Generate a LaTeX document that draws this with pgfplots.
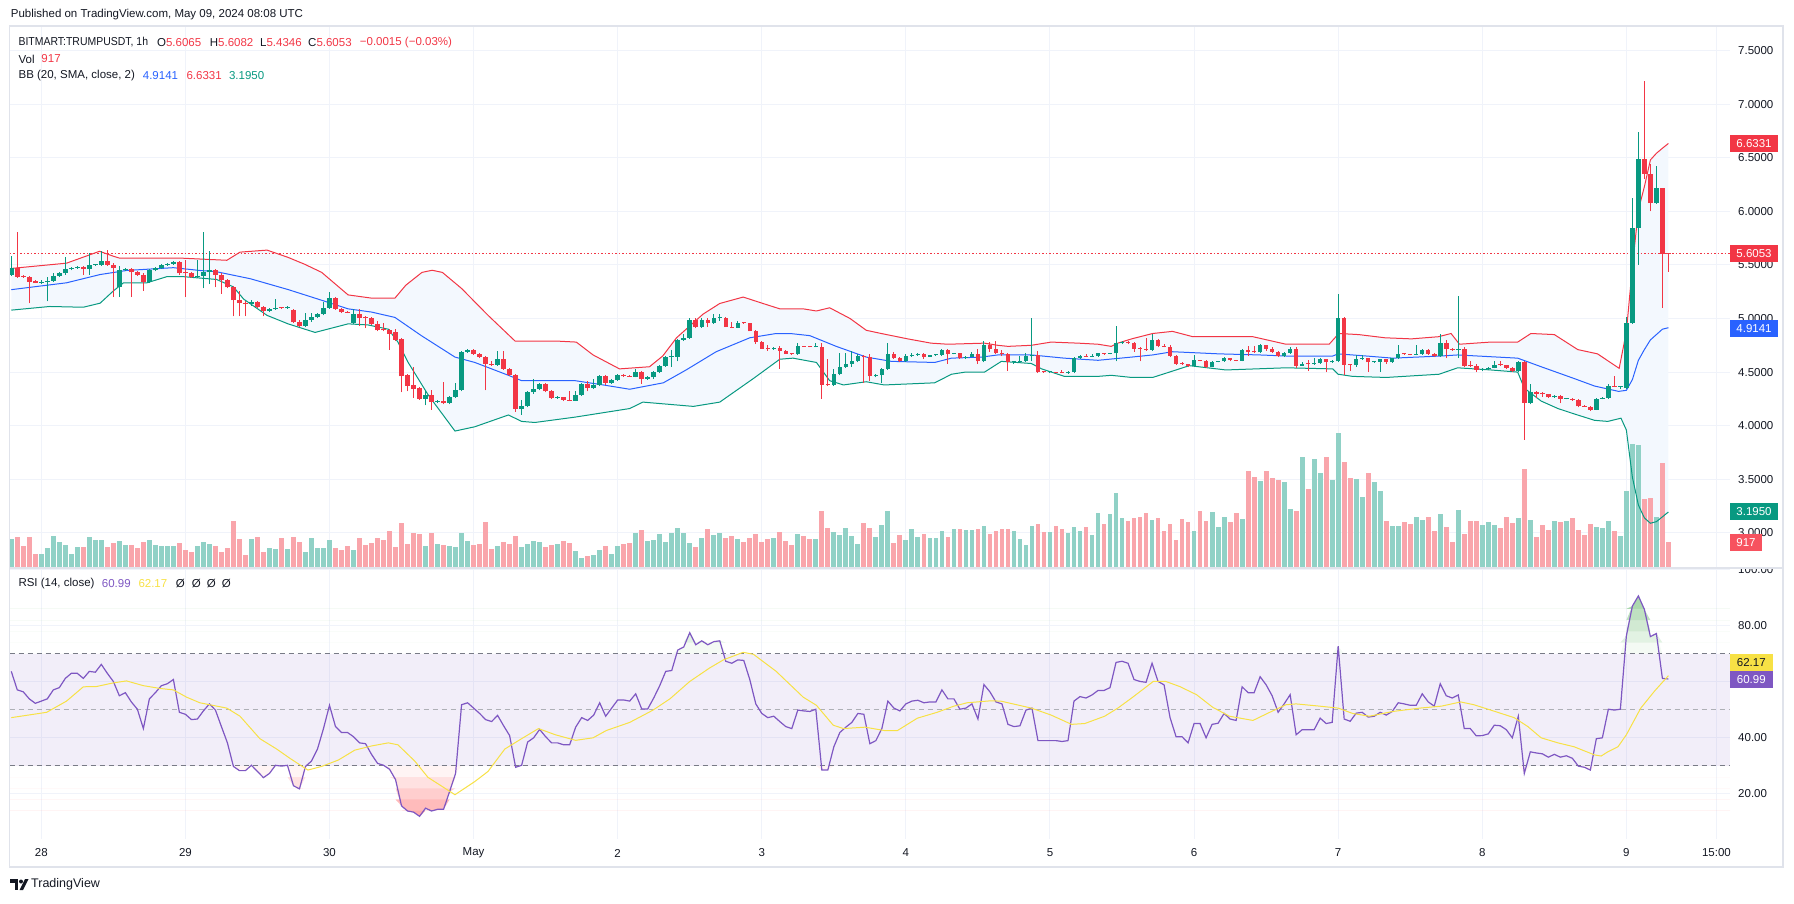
\documentclass[border=0pt]{standalone}
\usepackage{pgfplots}
\pgfplotsset{compat=1.18}
\usepackage{pgfplotstable}
\usepgfplotslibrary{fillbetween}
\usepackage{fontspec}
\setmainfont{Liberation Sans}

\definecolor{upc}{HTML}{089981}
\definecolor{dnc}{HTML}{F23645}
\definecolor{upv}{RGB}{144,209,198}
\definecolor{dnv}{RGB}{249,165,171}
\definecolor{bbmid}{HTML}{2962FF}
\definecolor{bbfill}{RGB}{243,248,254}
\definecolor{gridc}{HTML}{F0F3FA}
\definecolor{txt}{HTML}{131722}
\definecolor{rsic}{HTML}{7E57C2}
\definecolor{rsima}{HTML}{F7E145}
\definecolor{framec}{HTML}{E0E3EB}
\definecolor{dashc}{HTML}{787B86}
\definecolor{obgreen}{RGB}{95,180,100}
\definecolor{osred}{RGB}{255,120,120}
\definecolor{volred}{HTML}{F7525F}

% hourly candles, h = hours from 28 Apr 00:00; v = volume (arbitrary units); r = RSI(14)
\pgfplotstableread{
h o hi lo c v r
-5 5.41 5.58 5.40 5.47 7.0 63.7
-4 5.47 5.81 5.38 5.39 7.6 57.1
-3 5.40 5.41 5.38 5.39 5.4 56.4
-2 5.39 5.40 5.14 5.345 7.6 53.9
-1 5.35 5.36 5.33 5.33 3.5 52.3
0 5.33 5.36 5.32 5.34 3.5 53.1
1 5.34 5.39 5.16 5.35 4.9 53.9
2 5.35 5.42 5.34 5.40 7.9 57.1
3 5.40 5.43 5.39 5.42 6.4 57.9
4 5.42 5.57 5.41 5.46 5.7 61.2
5 5.46 5.48 5.45 5.47 3.5 63.0
6 5.47 5.49 5.46 5.48 5.2 63.0
7 5.48 5.49 5.41 5.46 5.2 61.2
8 5.46 5.61 5.41 5.50 7.6 63.7
9 5.50 5.51 5.49 5.505 6.9 63.4
10 5.50 5.63 5.49 5.54 6.9 66.2
11 5.54 5.64 5.49 5.50 5.2 63.0
12 5.50 5.52 5.20 5.47 6.2 60.1
13 5.29 5.49 5.20 5.45 6.7 55.0
14 5.45 5.47 5.44 5.46 5.7 56.1
15 5.46 5.47 5.20 5.43 5.7 52.8
16 5.43 5.44 5.40 5.41 4.9 50.2
17 5.41 5.42 5.26 5.34 6.4 43.3
18 5.34 5.46 5.33 5.45 6.9 53.9
19 5.45 5.48 5.44 5.47 5.7 56.1
20 5.47 5.51 5.46 5.50 5.4 58.6
21 5.50 5.52 5.49 5.51 5.4 59.3
22 5.51 5.54 5.50 5.53 5.4 60.8
23 5.53 5.54 5.41 5.42 6.2 49.1
24 5.425 5.55 5.20 5.42 4.4 48.4
25 5.42 5.43 5.38 5.39 4.0 46.5
26 5.39 5.55 5.38 5.40 5.4 46.7
27 5.40 5.81 5.28 5.43 6.4 49.6
28 5.43 5.63 5.32 5.45 5.8 52.1
29 5.45 5.46 5.29 5.41 5.4 49.9
30 5.41 5.42 5.23 5.36 4.0 44.0
31 5.36 5.37 5.28 5.29 4.9 38.2
32 5.29 5.30 5.02 5.17 11.6 29.8
33 5.17 5.26 5.02 5.14 7.0 28.3
34 5.14 5.16 5.02 5.135 3.2 28.3
35 5.135 5.17 5.12 5.15 7.0 30.2
36 5.15 5.16 5.10 5.11 7.6 28.0
37 5.11 5.12 5.02 5.07 3.8 25.8
38 5.07 5.10 5.06 5.09 4.9 27.3
39 5.09 5.18 5.08 5.10 4.6 30.2
40 5.10 5.11 5.09 5.095 7.4 29.9
41 5.095 5.12 5.09 5.10 4.7 30.2
42 5.08 5.09 4.96 4.964 7.6 22.9
43 4.97 4.99 4.92 4.93 6.4 21.8
44 4.93 5.05 4.92 4.99 4.0 29.8
45 4.99 5.05 4.97 5.01 7.4 31.7
46 5.01 5.05 5.00 5.04 4.9 36.0
47 5.04 5.15 5.03 5.10 4.9 43.3
48 5.10 5.25 5.09 5.19 6.9 51.6
49 5.19 5.20 5.08 5.09 4.9 44.0
50 5.09 5.10 5.05 5.06 4.5 41.9
51 5.06 5.07 5.05 5.055 5.4 41.9
52 4.96 5.09 4.95 5.04 4.5 40.4
53 5.04 5.09 4.93 5.00 7.4 38.2
54 5.01 5.02 4.91 5.00 5.7 37.9
55 5.00 5.01 4.94 4.95 6.2 34.1
56 4.95 4.98 4.88 4.89 7.4 30.9
57 4.90 4.96 4.88 4.89 6.9 30.2
58 4.89 4.90 4.71 4.86 9.1 28.8
59 4.87 4.90 4.79 4.80 5.2 25.1
60 4.81 4.82 4.31 4.46 11.1 15.7
61 4.47 4.48 4.32 4.37 5.9 13.9
62 4.38 4.55 4.26 4.34 8.6 13.5
63 4.35 4.36 4.24 4.25 8.4 12.0
64 4.25 4.33 4.19 4.29 5.4 14.9
65 4.29 4.33 4.15 4.22 8.6 13.9
66 4.22 4.24 4.21 4.23 5.9 14.5
67 4.23 4.41 4.20 4.21 5.7 14.5
68 4.21 4.28 4.20 4.27 5.4 20.8
69 4.27 4.40 4.26 4.33 5.2 27.3
70 4.33 4.70 4.32 4.69 8.6 51.8
71 4.69 4.72 4.68 4.71 6.7 52.5
72 4.71 4.72 4.66 4.67 5.7 50.6
73 4.67 4.68 4.63 4.64 5.9 48.7
74 4.64 4.65 4.33 4.58 11.3 46.5
75 4.58 4.60 4.56 4.57 4.7 45.8
76 4.57 4.70 4.56 4.62 5.4 48.0
77 4.62 4.70 4.52 4.53 6.4 44.3
78 4.53 4.54 4.46 4.47 5.9 40.8
79 4.47 4.48 4.13 4.16 7.9 29.5
80 4.16 4.24 4.10 4.18 5.2 30.2
81 4.18 4.32 4.17 4.31 5.9 38.5
82 4.31 4.44 4.30 4.34 6.7 40.0
83 4.34 4.40 4.33 4.39 6.4 43.0
84 4.39 4.40 4.31 4.32 5.2 40.4
85 4.32 4.33 4.25 4.26 5.7 38.2
86 4.26 4.28 4.25 4.265 5.9 38.2
87 4.265 4.27 4.23 4.24 6.7 37.5
88 4.24 4.32 4.23 4.235 6.2 37.5
89 4.235 4.32 4.23 4.29 4.2 43.8
90 4.29 4.40 4.28 4.39 2.5 47.2
91 4.39 4.42 4.32 4.35 3.0 46.2
92 4.35 4.44 4.34 4.38 3.2 48.1
93 4.38 4.47 4.37 4.46 4.5 52.5
94 4.46 4.47 4.38 4.40 5.4 47.7
95 4.40 4.44 4.39 4.43 3.5 50.6
96 4.43 4.48 4.42 4.47 5.4 53.5
97 4.47 4.48 4.455 4.46 5.9 53.5
98 4.46 4.47 4.455 4.458 6.2 53.1
99 4.458 4.53 4.45 4.50 8.6 55.7
100 4.50 4.51 4.39 4.44 9.4 50.3
101 4.44 4.46 4.43 4.45 6.7 50.3
102 4.45 4.51 4.44 4.50 6.9 54.2
103 4.50 4.57 4.49 4.56 8.4 58.6
104 4.56 4.65 4.55 4.64 6.4 63.7
105 4.64 4.71 4.55 4.645 8.6 64.0
106 4.645 4.81 4.60 4.80 9.8 71.3
107 4.80 4.86 4.79 4.82 8.6 72.4
108 4.82 5.00 4.81 4.99 6.2 77.5
109 4.99 5.00 4.91 4.92 5.2 73.2
110 4.92 5.00 4.91 4.99 7.4 74.6
111 4.99 5.00 4.92 4.96 9.6 73.2
112 4.96 5.04 4.95 5.00 8.1 74.3
113 5.00 5.04 4.98 5.005 8.6 74.6
114 5.005 5.01 4.92 4.92 7.4 67.3
115 4.92 4.97 4.91 4.915 7.9 66.6
116 4.915 4.98 4.91 4.96 7.1 67.8
117 4.96 4.965 4.95 4.955 6.4 67.6
118 4.955 4.96 4.88 4.88 7.4 60.8
119 4.88 4.89 4.76 4.78 8.4 52.1
120 4.78 4.79 4.72 4.72 6.4 48.7
121 4.72 4.75 4.70 4.715 7.1 47.2
122 4.715 4.73 4.71 4.725 7.4 47.7
123 4.725 4.74 4.53 4.70 8.9 45.8
124 4.70 4.71 4.67 4.67 6.7 44.0
125 4.67 4.68 4.66 4.665 5.7 43.3
126 4.665 4.77 4.66 4.74 8.4 49.9
127 4.74 4.745 4.735 4.738 7.9 49.6
128 4.738 4.74 4.73 4.732 7.1 49.4
129 4.732 4.77 4.73 4.735 7.1 50.2
130 4.735 4.77 4.25 4.38 14.0 28.5
131 4.38 4.62 4.37 4.375 9.8 28.5
132 4.375 4.53 4.37 4.48 8.9 36.8
133 4.48 4.68 4.47 4.55 8.1 41.9
134 4.55 4.68 4.54 4.58 9.8 43.8
135 4.58 4.70 4.55 4.60 7.9 45.5
136 4.60 4.67 4.59 4.65 5.9 48.7
137 4.65 4.66 4.40 4.64 11.1 48.4
138 4.64 4.67 4.42 4.46 9.9 37.9
139 4.46 4.48 4.45 4.47 7.6 39.0
140 4.47 4.54 4.40 4.53 10.6 43.3
141 4.53 4.77 4.52 4.67 14.0 53.1
142 4.67 4.69 4.62 4.63 6.2 50.6
143 4.63 4.64 4.59 4.60 8.1 49.6
144 4.60 4.67 4.59 4.65 6.9 52.1
145 4.65 4.68 4.64 4.66 9.6 53.1
146 4.66 4.68 4.65 4.67 7.6 53.4
147 4.67 4.68 4.62 4.645 8.4 52.5
148 4.645 4.66 4.64 4.655 7.4 52.8
149 4.655 4.665 4.65 4.66 7.4 52.8
150 4.66 4.72 4.65 4.71 9.1 57.1
151 4.71 4.72 4.58 4.67 7.6 53.9
152 4.67 4.68 4.665 4.675 9.6 53.9
153 4.675 4.68 4.62 4.63 9.6 50.2
154 4.63 4.65 4.62 4.645 9.4 50.6
155 4.645 4.69 4.64 4.67 9.4 52.1
156 4.67 4.72 4.58 4.60 9.6 46.7
157 4.60 4.79 4.59 4.75 10.3 59.0
158 4.75 4.78 4.69 4.72 8.4 56.4
159 4.72 4.79 4.67 4.68 9.1 52.8
160 4.68 4.71 4.65 4.67 9.6 52.1
161 4.67 4.68 4.51 4.59 9.6 44.8
162 4.59 4.60 4.58 4.595 9.1 44.0
163 4.595 4.65 4.59 4.60 7.1 44.3
164 4.60 4.68 4.59 4.65 5.7 49.9
165 4.65 5.00 4.60 4.66 10.3 50.6
166 4.66 4.70 4.49 4.50 10.8 39.0
167 4.50 4.51 4.495 4.498 8.9 39.0
168 4.498 4.51 4.49 4.499 8.9 39.0
169 4.499 4.505 4.49 4.495 10.3 39.0
170 4.495 4.52 4.49 4.49 9.6 38.7
171 4.49 4.51 4.485 4.50 8.6 39.0
172 4.50 4.64 4.49 4.63 10.1 53.1
173 4.63 4.66 4.62 4.65 9.1 54.7
174 4.65 4.67 4.64 4.645 10.1 54.2
175 4.645 4.67 4.64 4.65 8.1 55.3
176 4.65 4.68 4.64 4.675 13.5 56.9
177 4.675 4.68 4.66 4.67 10.8 56.9
178 4.67 4.68 4.665 4.675 13.3 57.9
179 4.675 4.93 4.60 4.77 18.4 66.9
180 4.77 4.79 4.76 4.78 12.3 67.3
181 4.78 4.79 4.76 4.775 11.6 66.6
182 4.775 4.78 4.69 4.72 12.3 60.8
183 4.72 4.73 4.60 4.715 12.5 60.1
184 4.715 4.82 4.70 4.71 13.5 59.8
185 4.71 4.86 4.70 4.80 11.8 66.6
186 4.80 4.81 4.73 4.74 12.3 60.1
187 4.74 4.76 4.73 4.735 9.1 58.9
188 4.735 4.75 4.64 4.65 10.8 47.2
189 4.65 4.66 4.57 4.58 6.9 40.4
190 4.58 4.59 4.57 4.575 12.0 40.4
191 4.575 4.58 4.55 4.555 11.3 38.2
192 4.555 4.66 4.55 4.61 9.1 45.1
193 4.61 4.615 4.60 4.605 14.0 45.1
194 4.605 4.61 4.54 4.55 11.6 40.0
195 4.55 4.60 4.545 4.595 13.8 44.8
196 4.595 4.605 4.59 4.60 10.1 45.2
197 4.60 4.64 4.595 4.63 12.5 48.7
198 4.63 4.635 4.60 4.61 11.3 46.7
199 4.61 4.615 4.60 4.605 13.5 46.2
200 4.605 4.72 4.60 4.71 12.0 58.2
201 4.71 4.74 4.65 4.69 23.8 56.1
202 4.69 4.74 4.68 4.685 22.3 56.1
203 4.685 4.76 4.68 4.75 21.4 61.8
204 4.75 4.755 4.70 4.72 23.8 58.9
205 4.72 4.73 4.68 4.69 22.1 55.0
206 4.69 4.70 4.64 4.65 21.6 49.1
207 4.65 4.69 4.64 4.68 21.1 52.1
208 4.68 4.73 4.67 4.72 14.5 55.4
209 4.72 4.73 4.54 4.56 14.0 41.1
210 4.56 4.59 4.555 4.58 27.2 42.9
211 4.58 4.61 4.51 4.575 19.4 42.9
212 4.575 4.63 4.57 4.585 26.7 42.9
213 4.585 4.63 4.58 4.62 23.3 47.0
214 4.62 4.625 4.50 4.59 27.2 45.1
215 4.59 4.61 4.585 4.60 21.6 45.5
216 4.60 5.23 4.59 5.00 33.1 72.7
217 5.00 5.01 4.47 4.57 26.0 46.7
218 4.57 4.58 4.51 4.565 22.1 45.9
219 4.565 4.66 4.55 4.62 21.8 48.8
220 4.62 4.66 4.615 4.63 17.4 49.1
221 4.63 4.635 4.50 4.59 23.3 47.4
222 4.59 4.60 4.585 4.595 21.1 47.7
223 4.595 4.625 4.50 4.62 18.9 49.1
224 4.62 4.625 4.58 4.59 11.6 48.1
225 4.59 4.635 4.585 4.63 10.3 49.4
226 4.63 4.75 4.62 4.67 10.3 52.5
227 4.67 4.68 4.66 4.665 11.3 52.1
228 4.665 4.67 4.655 4.66 10.8 51.6
229 4.66 4.75 4.655 4.665 12.5 51.6
230 4.665 4.72 4.66 4.71 11.8 55.7
231 4.71 4.715 4.66 4.67 12.5 52.8
232 4.67 4.675 4.64 4.65 9.1 51.3
233 4.65 4.86 4.645 4.77 13.3 59.3
234 4.77 4.80 4.63 4.72 10.1 55.0
235 4.72 4.725 4.70 4.71 6.4 54.2
236 4.71 5.21 4.63 4.72 14.3 55.3
237 4.72 4.73 4.55 4.56 8.4 43.3
238 4.56 4.60 4.55 4.555 11.6 43.3
239 4.555 4.58 4.50 4.52 11.6 40.7
240 4.52 4.54 4.51 4.53 10.6 40.8
241 4.53 4.545 4.52 4.54 11.3 41.4
242 4.54 4.60 4.535 4.57 10.6 44.5
243 4.57 4.60 4.56 4.565 9.8 44.3
244 4.565 4.57 4.53 4.54 12.5 42.9
245 4.54 4.545 4.505 4.51 11.1 40.0
246 4.51 4.60 4.505 4.59 12.3 47.7
247 4.59 4.60 3.87 4.21 24.3 27.3
248 4.21 4.39 4.20 4.31 11.8 35.0
249 4.31 4.32 4.26 4.30 7.6 34.6
250 4.30 4.31 4.27 4.295 10.6 34.3
251 4.295 4.30 4.26 4.265 9.4 33.1
252 4.265 4.29 4.26 4.28 11.6 34.1
253 4.28 4.285 4.21 4.25 11.3 33.1
254 4.25 4.255 4.245 4.252 11.6 33.6
255 4.252 4.26 4.235 4.24 12.3 32.7
256 4.24 4.245 4.17 4.18 9.4 29.9
257 4.18 4.19 4.175 4.178 8.1 29.5
258 4.178 4.18 4.14 4.15 10.8 28.5
259 4.15 4.26 4.145 4.25 10.1 39.7
260 4.25 4.27 4.245 4.26 9.8 40.0
261 4.26 4.39 4.25 4.37 11.6 50.2
262 4.37 4.46 4.36 4.365 9.1 49.9
263 4.365 4.37 4.34 4.368 7.9 50.2
264 4.35 5.01 4.34 4.955 18.9 76.4
265 4.955 6.12 4.95 5.84 30.3 87.0
266 5.84 6.74 5.50 6.49 30.1 90.6
267 6.49 7.215 6.30 6.35 16.9 85.8
268 6.35 6.44 6.00 6.075 17.2 76.1
269 6.075 6.42 6.07 6.215 12.5 77.2
270 6.215 6.22 5.10 5.60 25.7 61.2
271 5.6065 5.6082 5.4346 5.6053 6.4 60.99
}\candles

% Bollinger bands (20, 2)
\pgfplotstableread{
h p
-5 5.467
4.2 5.516
9.7 5.627
12 5.581
13.1 5.562
23.7 5.562
30.9 5.543
33.1 5.619
37.6 5.638
41.1 5.57
43.9 5.505
46.7 5.43
51.1 5.22
55 5.19
58.9 5.19
60.7 5.31
63.4 5.43
65.1 5.45
66.8 5.43
70 5.28
74.4 5.03
78.9 4.79
85.6 4.79
89.1 4.78
91.9 4.66
96.3 4.53
101.3 4.55
103.5 4.65
105.8 4.82
110.2 5.04
113 5.14
116.9 5.20
120.2 5.14
123 5.09
126.9 5.09
129.1 5.07
131.3 5.10
134.7 5.00
137.4 4.89
139.9 4.86
144.3 4.81
148.2 4.77
151 4.76
157.1 4.77
159.3 4.75
161 4.74
164.9 4.75
168.2 4.78
172.7 4.77
176 4.76
178.2 4.74
179.3 4.77
181.6 4.81
185.1 4.86
188.4 4.88
191.8 4.83
199 4.83
201.8 4.83
207.3 4.76
214.5 4.76
215.3 4.81
216.1 4.86
219.4 4.85
223.8 4.82
228.2 4.81
232.7 4.83
234.8 4.86
236.2 4.76
241.4 4.78
245.9 4.78
248.1 4.86
252 4.85
255.9 4.71
259.2 4.67
262.8 4.535
264 4.877
265 5.483
266 6.012
267 6.23
268 6.479
269 6.541
270 6.588
271 6.633
}\bbupper
\pgfplotstableread{
h p
-5 5.078
1.4 5.112
7 5.105
9.8 5.143
12 5.257
13.7 5.333
17.6 5.333
20.9 5.39
23.7 5.39
29.2 5.364
32 5.295
33.7 5.181
37.6 5.029
41.1 4.95
45.6 4.87
51.1 4.95
54.4 4.94
57.8 4.90
59.4 4.78
61.1 4.59
64.4 4.29
68.9 3.95
72.2 3.99
77.8 4.10
80 4.04
82.2 4.03
88.9 4.08
98 4.16
100.2 4.22
108.6 4.18
113 4.22
118.6 4.44
123 4.62
125.2 4.63
129.1 4.59
131.3 4.42
133.6 4.38
137.4 4.41
140.4 4.38
148.8 4.40
151.6 4.48
153.9 4.50
157.1 4.50
159.9 4.60
164.9 4.58
166.6 4.53
170.4 4.46
176 4.46
178.2 4.47
181.6 4.45
185.1 4.45
187.9 4.50
191.2 4.56
197.3 4.52
207.3 4.54
215.1 4.53
216 4.48
218.4 4.46
224 4.45
232.8 4.48
235.9 4.54
241.4 4.52
245.9 4.50
247 4.35
249.8 4.23
252.6 4.16
255.3 4.11
258.7 4.05
260.9 4.04
263.1 4.07
264 3.96
265 3.52
266 3.26
267 3.14
268 3.09
269 3.105
270 3.15
271 3.195
}\bblower
\pgfplotstableread{
h p
-5 5.269
4.2 5.333
9.8 5.41
14.2 5.448
22 5.474
26.4 5.448
29.2 5.436
34.8 5.371
41.1 5.27
46.7 5.17
51.1 5.09
55 5.06
58.9 5.01
63.3 4.84
68.9 4.64
72.2 4.59
77.8 4.47
80 4.42
88.9 4.42
93.6 4.38
98 4.34
103.6 4.40
107.4 4.52
112.4 4.69
118 4.82
122.4 4.86
124.7 4.86
128 4.84
132.4 4.74
137.4 4.64
141.6 4.60
148.8 4.59
151.6 4.63
156.6 4.64
159.3 4.66
164.9 4.66
170.4 4.63
176 4.61
181.6 4.64
185.1 4.66
188.4 4.69
196.2 4.67
202.9 4.66
207.3 4.65
215.1 4.65
216 4.67
220.7 4.65
225.1 4.63
233.1 4.65
235.9 4.66
245.9 4.63
249.8 4.55
255.3 4.44
258.7 4.37
262.7 4.32
264 4.33
265 4.43
266 4.61
267 4.71
268 4.80
269 4.85
270 4.90
271 4.914
}\bbbasis

\pgfplotsset{
  colormap={candlecm}{color(0)=(upc) color(1)=(dnc)},
  colormap={volcm}{color(0)=(upv) color(1)=(dnv)},
}

\begin{document}
\begin{tikzpicture}[font=\fontsize{11.5}{13}\selectfont]
\path (0pt,0pt) rectangle (1794pt,903pt);

% ---------------- price pane ----------------
\begin{axis}[
  at={(9.6pt,335pt)}, anchor=south west, scale only axis,
  width=1720.4pt, height=542pt,
  xmin=-5.28, xmax=281.26, ymin=2.6726, ymax=7.7285,
  axis line style={draw=none}, major tick length=0pt,
  grid=major, grid style={gridc, line width=1pt},
  xtick={0,24,...,264,279}, xticklabels={},
  ytick={3,3.5,...,7.5},
  yticklabels={3.0000,3.5000,4.0000,4.5000,5.0000,5.5000,6.0000,6.5000,7.0000,7.5000},
  yticklabel pos=right,
  tick label style={font=\fontsize{11.5}{13}\selectfont, text=txt},
  yticklabel style={anchor=west, inner sep=0pt, xshift=8pt},
  point meta min=0, point meta max=1,
]
% volume: vertical bars from the pane bottom, coloured by candle direction
\addplot[colormap name=volcm, line width=4.8pt, point meta={\thisrow{c}<\thisrow{o}},
  quiver={u=0, v={0.03806*\thisrow{v}}, colored=mapped color}]
  table[x=h, y expr={2.6726}] {\candles};

% Bollinger bands
\addplot[name path=bbu, draw=none] table[x=h, y=p] {\bbupper};
\addplot[name path=bbl, draw=none] table[x=h, y=p] {\bblower};
\addplot[fill=bbfill, draw=none] fill between[of=bbu and bbl];
\addplot[dnc, line width=1pt] table[x=h, y=p] {\bbupper};
\addplot[upc, line width=1pt] table[x=h, y=p] {\bblower};
\addplot[bbmid, line width=1pt] table[x=h, y=p] {\bbbasis};

% last price line
\draw[dnc, line width=1pt, dash pattern=on 1.5pt off 2pt] (axis cs:-5.28,5.6053) -- (axis cs:281.26,5.6053);

% candles: wicks, then bodies
\addplot[colormap name=candlecm, line width=1pt, point meta={\thisrow{c}<\thisrow{o}},
  quiver={u=0, v={\thisrow{hi}-\thisrow{lo}}, colored=mapped color}]
  table[x=h, y=lo] {\candles};
\addplot[colormap name=candlecm, line width=4.5pt, point meta={\thisrow{c}<\thisrow{o}},
  quiver={u=0, v={max(abs(\thisrow{c}-\thisrow{o}),0.0093)}, colored=mapped color}]
  table[x=h, y expr={min(\thisrow{o},\thisrow{c})}] {\candles};
\end{axis}

% ---------------- RSI pane ----------------
\begin{axis}[
  at={(9.6pt,64.4pt)}, anchor=south west, scale only axis,
  width=1720.4pt, height=270.6pt,
  xmin=-5.28, xmax=281.26, ymin=4.05, ymax=100.58,
  axis line style={draw=none}, major tick length=0pt,
  grid=major, grid style={gridc, line width=1pt},
  xtick={0,24,...,264,279},
  xticklabels={28,29,30,May,2,3,4,5,6,7,8,9,15:00},
  ytick={20,40,60,80,100},
  yticklabels={20.00,40.00,60.00,80.00,100.00},
  yticklabel pos=right,
  tick label style={font=\fontsize{11.5}{13}\selectfont, text=txt},
  yticklabel style={anchor=west, inner sep=0pt, xshift=8pt},
  xticklabel style={anchor=center, inner sep=0pt, yshift=-14.4pt},
]
\fill[rsic, fill opacity=0.1] (axis cs:-5.28,30) rectangle (axis cs:281.26,70);
\draw[dashc, line width=1pt, dash pattern=on 5pt off 4pt] (axis cs:-5.28,70) -- (axis cs:281.26,70);
\draw[dashc!60, line width=1pt, dash pattern=on 5pt off 4pt] (axis cs:-5.28,50) -- (axis cs:281.26,50);
\draw[dashc, line width=1pt, dash pattern=on 5pt off 4pt] (axis cs:-5.28,30) -- (axis cs:281.26,30);

% overbought / oversold areas, shaded in horizontal steps:
% the RSI curve clamped at a level, filled against that level
\foreach \lev in {70,74,78,82,86,30,26,22,18,14} {
  \edef\tmp{\noexpand\path[name path=lev\lev] (axis cs:-5.28,\lev) -- (axis cs:281.26,\lev);}
  \tmp
}
\addplot[name path=ob70, draw=none] table[x=h, y expr={max(\thisrow{r},70)}] {\candles};
\addplot[name path=ob74, draw=none] table[x=h, y expr={max(\thisrow{r},74)}] {\candles};
\addplot[name path=ob78, draw=none] table[x=h, y expr={max(\thisrow{r},78)}] {\candles};
\addplot[name path=ob82, draw=none] table[x=h, y expr={max(\thisrow{r},82)}] {\candles};
\addplot[name path=ob86, draw=none] table[x=h, y expr={max(\thisrow{r},86)}] {\candles};
\addplot[name path=os30, draw=none] table[x=h, y expr={min(\thisrow{r},30)}] {\candles};
\addplot[name path=os26, draw=none] table[x=h, y expr={min(\thisrow{r},26)}] {\candles};
\addplot[name path=os22, draw=none] table[x=h, y expr={min(\thisrow{r},22)}] {\candles};
\addplot[name path=os18, draw=none] table[x=h, y expr={min(\thisrow{r},18)}] {\candles};
\addplot[name path=os14, draw=none] table[x=h, y expr={min(\thisrow{r},14)}] {\candles};
\addplot[fill=obgreen!7, draw=none] fill between[of=ob70 and lev70];
\addplot[fill=obgreen!18, draw=none] fill between[of=ob74 and lev74];
\addplot[fill=obgreen!29, draw=none] fill between[of=ob78 and lev78];
\addplot[fill=obgreen!40, draw=none] fill between[of=ob82 and lev82];
\addplot[fill=obgreen!52, draw=none] fill between[of=ob86 and lev86];
\addplot[fill=osred!8, draw=none] fill between[of=os30 and lev30];
\addplot[fill=osred!22, draw=none] fill between[of=os26 and lev26];
\addplot[fill=osred!36, draw=none] fill between[of=os22 and lev22];
\addplot[fill=osred!50, draw=none] fill between[of=os18 and lev18];
\addplot[fill=osred!62, draw=none] fill between[of=os14 and lev14];
\addplot[rsic, line width=1.2pt] table[x=h, y=r] {\candles};

\addplot[rsima, line width=1pt] coordinates {
(-5,47.2) (0.9,49.1) (4.2,53.1) (7,58.2) (9.2,58.3) (12,59.6) (14.2,60.3) (17,58.6) (19.8,57.6)
(22,57.1) (24.2,54.5) (26.4,52.5) (30.9,50.6) (33.1,47.7) (36.4,39.7) (39.2,36.0) (41.4,32.7)
(44.4,28.5) (46.7,29.8) (49.5,32.1) (52.2,35.6) (55,37.1) (57.8,38.2) (59.4,37.5) (62.2,31.7)
(64.4,25.9) (68.9,19.7) (72.2,24.4) (74.4,28.0) (77.2,36.0) (80,39.7) (82.8,43.3) (85.6,41.1)
(89,39.1) (91.9,40.0) (94.1,42.6) (98,45.5) (101.9,49.9) (104.7,53.9) (108,60.1) (111.3,64.9)
(113.6,67.8) (116.9,70.5) (118.6,69.8) (122.4,63.7) (126.9,54.5) (129.1,51.6) (131.9,44.5)
(133.6,43.3) (137.2,43.8) (140.4,42.6) (142.6,42.6) (145.9,47.0) (149.2,49.1) (152,51.3)
(154.2,52.5) (158.1,53.2) (159.8,53.1) (164.9,50.6) (168.2,48.1) (171.6,44.8) (173.8,45.1)
(177.1,47.7) (179.3,50.6) (181.6,54.2) (185.2,60.1) (187.3,60.1) (189.6,58.3) (192.4,55.4)
(195.1,50.9) (197.9,47.7) (201.8,46.2) (204.6,49.1) (207.3,51.8) (209,52.1) (212.9,51.3)
(216,50.6) (218.4,48.7) (221.2,47.7) (225.1,49.4) (229.6,50.6) (233.2,51.3) (236.4,52.8)
(238.6,51.8) (241.4,49.9) (245.3,47.2) (247.6,44.0) (249.8,40.0) (252.6,38.2) (255.3,36.8)
(258.7,33.9) (259.8,33.5) (260.9,35.0) (262.6,36.8) (264,41.1) (266.4,50.6) (268.7,56.7) (271,62.17)};
\end{axis}

% ---------------- frame, separators ----------------
\fill[white] (1731pt,335pt) rectangle (1782pt,345pt);
\draw[framec, line width=1.5pt] (9.6pt,36pt) rectangle (1783pt,877pt);
\draw[framec, line width=2pt] (9.6pt,335pt) -- (1783pt,335pt);

% ---------------- price-scale labels ----------------
\tikzset{plabel/.style={inner sep=0pt, minimum height=17pt, text=white, anchor=center}}
\node[plabel, fill=dnc, minimum width=48pt] at (1754pt,759pt) {6.6331};
\node[plabel, fill=dnc, minimum width=48pt] at (1754pt,649.4pt) {5.6053};
\node[plabel, fill=bbmid, minimum width=48pt] at (1754pt,574.3pt) {4.9141};
\node[plabel, fill=upc, minimum width=48pt] at (1754pt,391pt) {3.1950};
\node[plabel, fill=volred, minimum width=32pt] at (1746pt,360.3pt) {917};
\node[plabel, fill=rsima, text=txt, minimum width=43pt] at (1751.3pt,240.7pt) {62.17};
\node[plabel, fill=rsic, minimum width=43pt] at (1751.3pt,223.7pt) {60.99};

% ---------------- legends ----------------
\node[anchor=west, inner sep=0pt, text=txt] at (10.7pt,888.5pt) {Published on TradingView.com, May 09, 2024 08:08 UTC};
\node[anchor=west, inner sep=0pt, text=txt] at (18.4pt,860.7pt) {\scalebox{0.91}[1]{BITMART:TRUMPUSDT, 1h}};
\node[anchor=west, inner sep=0pt] at (156.9pt,860.7pt) {\textcolor{txt}{O}\textcolor{dnc}{5.6065}};
\node[anchor=west, inner sep=0pt] at (209.7pt,860.7pt) {\textcolor{txt}{H}\textcolor{dnc}{5.6082}};
\node[anchor=west, inner sep=0pt] at (260pt,860.7pt) {\textcolor{txt}{L}\textcolor{dnc}{5.4346}};
\node[anchor=west, inner sep=0pt] at (308pt,860.7pt) {\textcolor{txt}{C}\textcolor{dnc}{5.6053}};
\node[anchor=west, inner sep=0pt, text=dnc] at (359.7pt,860.7pt) {−0.0015 (−0.03\%)};
\node[anchor=west, inner sep=0pt, text=txt] at (18.4pt,844pt) {Vol};
\node[anchor=west, inner sep=0pt, text=dnc] at (41.3pt,844pt) {917};
\node[anchor=west, inner sep=0pt, text=txt] at (18.4pt,827pt) {BB (20, SMA, close, 2)};
\node[anchor=west, inner sep=0pt, text=bbmid] at (142.7pt,827pt) {4.9141};
\node[anchor=west, inner sep=0pt, text=dnc] at (186.4pt,827pt) {6.6331};
\node[anchor=west, inner sep=0pt, text=upc] at (228.9pt,827pt) {3.1950};
\node[anchor=west, inner sep=0pt, text=txt] at (18.3pt,319.3pt) {RSI (14, close)};
\node[anchor=west, inner sep=0pt, text=rsic] at (101.7pt,319.3pt) {60.99};
\node[anchor=west, inner sep=0pt, text=rsima] at (138.3pt,319.3pt) {62.17};
\node[anchor=west, inner sep=0pt, text=txt] at (175.7pt,319.3pt) {Ø};
\node[anchor=west, inner sep=0pt, text=txt] at (191.7pt,319.3pt) {Ø};
\node[anchor=west, inner sep=0pt, text=txt] at (206.7pt,319.3pt) {Ø};
\node[anchor=west, inner sep=0pt, text=txt] at (221.7pt,319.3pt) {Ø};

% ---------------- TradingView logo ----------------
\fill[txt] (10pt,20pt) rectangle (18pt,24pt);
\fill[txt] (14.5pt,13pt) rectangle (18pt,24pt);
\fill[txt] (21pt,21.5pt) circle (2pt);
\fill[txt] (19.5pt,13pt) -- (23pt,13pt) -- (28.5pt,24pt) -- (25pt,24pt) -- cycle;
\node[anchor=west, inner sep=0pt, text=txt, font=\fontsize{12.5}{14}\selectfont] at (31pt,18.5pt) {TradingView};
\end{tikzpicture}
\end{document}
